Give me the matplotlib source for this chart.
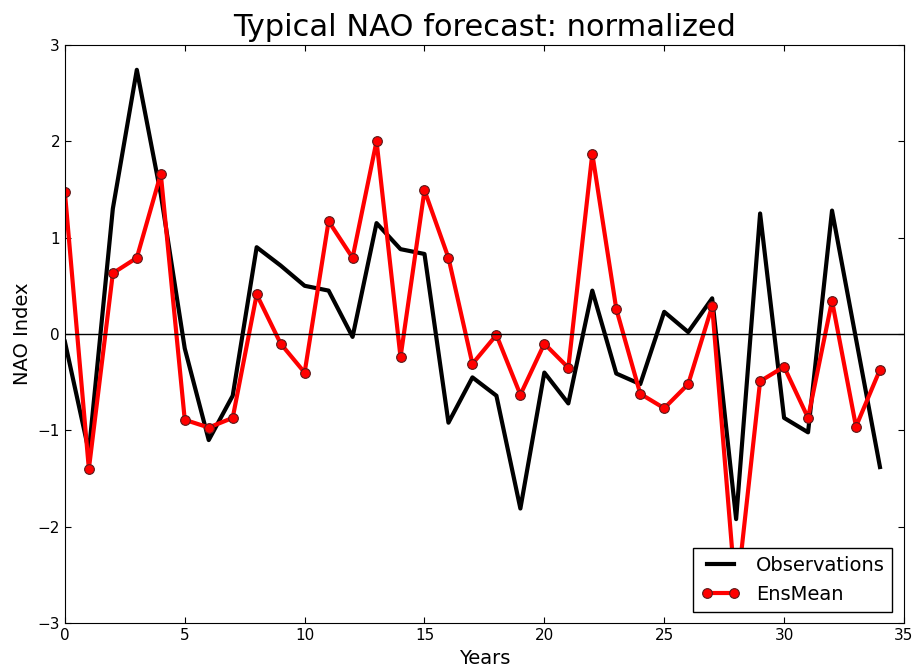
import numpy as np
import matplotlib
matplotlib.use("Agg")
import matplotlib.pyplot as plt

years = np.arange(35)
observations = [-0.08, -1.22, 1.30, 2.74, 1.45, -0.15, -1.10, -0.64, 0.90, 0.71,
                0.50, 0.45, -0.03, 1.15, 0.88, 0.83, -0.92, -0.45, -0.64, -1.81,
                -0.40, -0.72, 0.45, -0.41, -0.52, 0.23, 0.02, 0.37, -1.92, 1.25,
                -0.87, -1.02, 1.28, -0.05, -1.38]
ens_mean = [1.47, -1.40, 0.63, 0.79, 1.66, -0.89, -0.97, -0.87, 0.41, -0.10,
            -0.40, 1.17, 0.79, 2.00, -0.24, 1.49, 0.79, -0.31, -0.01, -0.63,
            -0.10, -0.35, 1.87, 0.26, -0.62, -0.77, -0.52, 0.29, -2.75, -0.49,
            -0.34, -0.87, 0.345, -0.96, -0.37]

fig = plt.figure(figsize=(9.14, 6.68), dpi=100)
ax = fig.add_axes([0.071, 0.067, 0.918, 0.866])

ax.plot(years, observations, "-", color="black", lw=3, label="Observations")
ax.plot(years, ens_mean, "o-", color="red", lw=3, ms=7, mec="#5a1a1a", mew=0.8,
        label="EnsMean")
ax.axhline(0, color="black", lw=1)

ax.set_xlim(0, 35)
ax.set_ylim(-3, 3)
ax.set_xticks(range(0, 36, 5))
ax.set_yticks(range(-3, 4))
ax.set_yticklabels(["\u22123", "\u22122", "\u22121", "0", "1", "2", "3"])
ax.tick_params(direction="in", top=True, right=True, labelsize=11, length=4)
ax.set_xlabel("Years", fontsize=14)
ax.set_ylabel("NAO Index", fontsize=14)
ax.set_title("Typical NAO forecast: normalized", fontsize=22)

leg = ax.legend(loc="lower right", fontsize=14, numpoints=2, fancybox=False,
                framealpha=1, edgecolor="black", borderaxespad=0.6)
leg.get_frame().set_linewidth(1)

fig.savefig("out.png", dpi=100)
